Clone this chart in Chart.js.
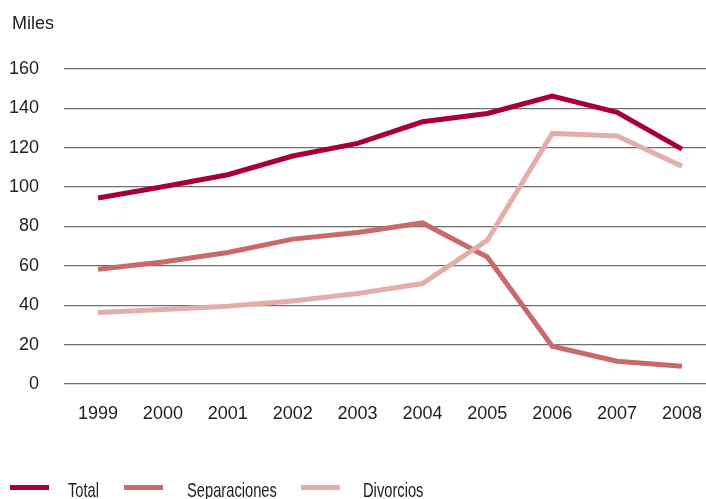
<!DOCTYPE html>
<html>
<head>
<meta charset="utf-8">
<script src="https://cdn.jsdelivr.net/npm/chart.js@4/dist/chart.umd.min.js"></script>
<style>
    html, body { margin: 0; padding: 0; background: #fff; }
    #wrap { position: relative; width: 706px; height: 499px; overflow: hidden; }
    #unit { position: absolute; left: 12px; top: 13px; font: 18px "Liberation Sans", Arial, sans-serif; color: #222; }
    .swatch { position: absolute; top: 485px; width: 39px; height: 5px; }
    .label { position: absolute; top: 478px; font: 21px "Liberation Sans", Arial, sans-serif; color: #222;
        white-space: nowrap; transform: scaleX(0.7); transform-origin: 0 0; }
</style>
</head>
<body>
<div id="wrap">
    <canvas id="chart" width="706" height="499"></canvas>
    <div id="unit">Miles</div>
</div>
<script>
(function() {
    'use strict';

    var years = [1999, 2000, 2001, 2002, 2003, 2004, 2005, 2006, 2007, 2008];
    var total = [94.5, 100.2, 106.3, 115.8, 122.2, 133.2, 137.4, 146.3, 138, 119.3];
    var separaciones = [58.3, 62, 66.8, 73.6, 77, 81.8, 64.5, 19.2, 11.6, 9];
    var divorcios = [36.3, 37.8, 39.5, 42.2, 46, 51, 73, 127.3, 126, 110.6];
    var yTicks = [0, 20, 40, 60, 80, 100, 120, 140, 160];

    var seriesNames = ['Total', 'Separaciones', 'Divorcios'];
    var seriesColors = ['#a80034', '#c96a6a', '#e3aea9'];

    // legend placement (px)
    var swatchLeft = [10, 124, 301];
    var labelLeft = [68, 187, 363];

    function points(values) {
        return values.map(function(v, i) { return { x: years[i], y: v }; });
    }

    var allSeries = [total, separaciones, divorcios];
    var drawOrder = [1, 2, 0];
    var datasets = allSeries.map(function(values, i) {
        return {
            label: seriesNames[i],
            data: points(values),
            borderColor: seriesColors[i],
            backgroundColor: seriesColors[i],
            borderWidth: 5,
            pointRadius: 0,
            tension: 0,
            order: drawOrder[i]
        };
    });

    var tickFont = { family: '"Liberation Sans", Arial, sans-serif', size: 18 };

    new Chart(document.getElementById('chart'), {
        type: 'line',
        data: { datasets: datasets },
        options: {
            responsive: false,
            animation: false,
            layout: { padding: { top: 69, bottom: 75, left: 0, right: 0 } },
            plugins: { legend: { display: false }, tooltip: { enabled: false } },
            scales: {
                x: {
                    type: 'linear',
                    min: 1998.476,
                    max: 2008.37,
                    afterFit: function(s) {
                        s.height = 40;
                        s.paddingLeft = 0;
                        s.paddingRight = 0;
                    },
                    afterBuildTicks: function(s) {
                        s.ticks = years.map(function(y) { return { value: y }; });
                    },
                    ticks: {
                        padding: 19,
                        color: '#222',
                        font: tickFont,
                        maxRotation: 0,
                        callback: function(v) { return String(v); }
                    },
                    grid: { display: false, drawTicks: false },
                    border: { display: false }
                },
                y: {
                    min: 0,
                    max: 160,
                    afterFit: function(s) { s.width = 64; },
                    afterBuildTicks: function(s) {
                        s.ticks = yTicks.map(function(v) { return { value: v }; });
                    },
                    ticks: { padding: 25, color: '#222', font: tickFont },
                    grid: { color: '#6e6e6e', lineWidth: 1.3, drawTicks: false },
                    border: { display: false }
                }
            }
        }
    });

    var wrap = document.getElementById('wrap');
    seriesNames.forEach(function(name, i) {
        var sw = document.createElement('div');
        sw.className = 'swatch';
        sw.style.left = swatchLeft[i] + 'px';
        sw.style.background = seriesColors[i];
        var txt = document.createElement('div');
        txt.className = 'label';
        txt.style.left = labelLeft[i] + 'px';
        txt.textContent = name;
        wrap.appendChild(sw);
        wrap.appendChild(txt);
    });
})();
</script>
</body>
</html>
